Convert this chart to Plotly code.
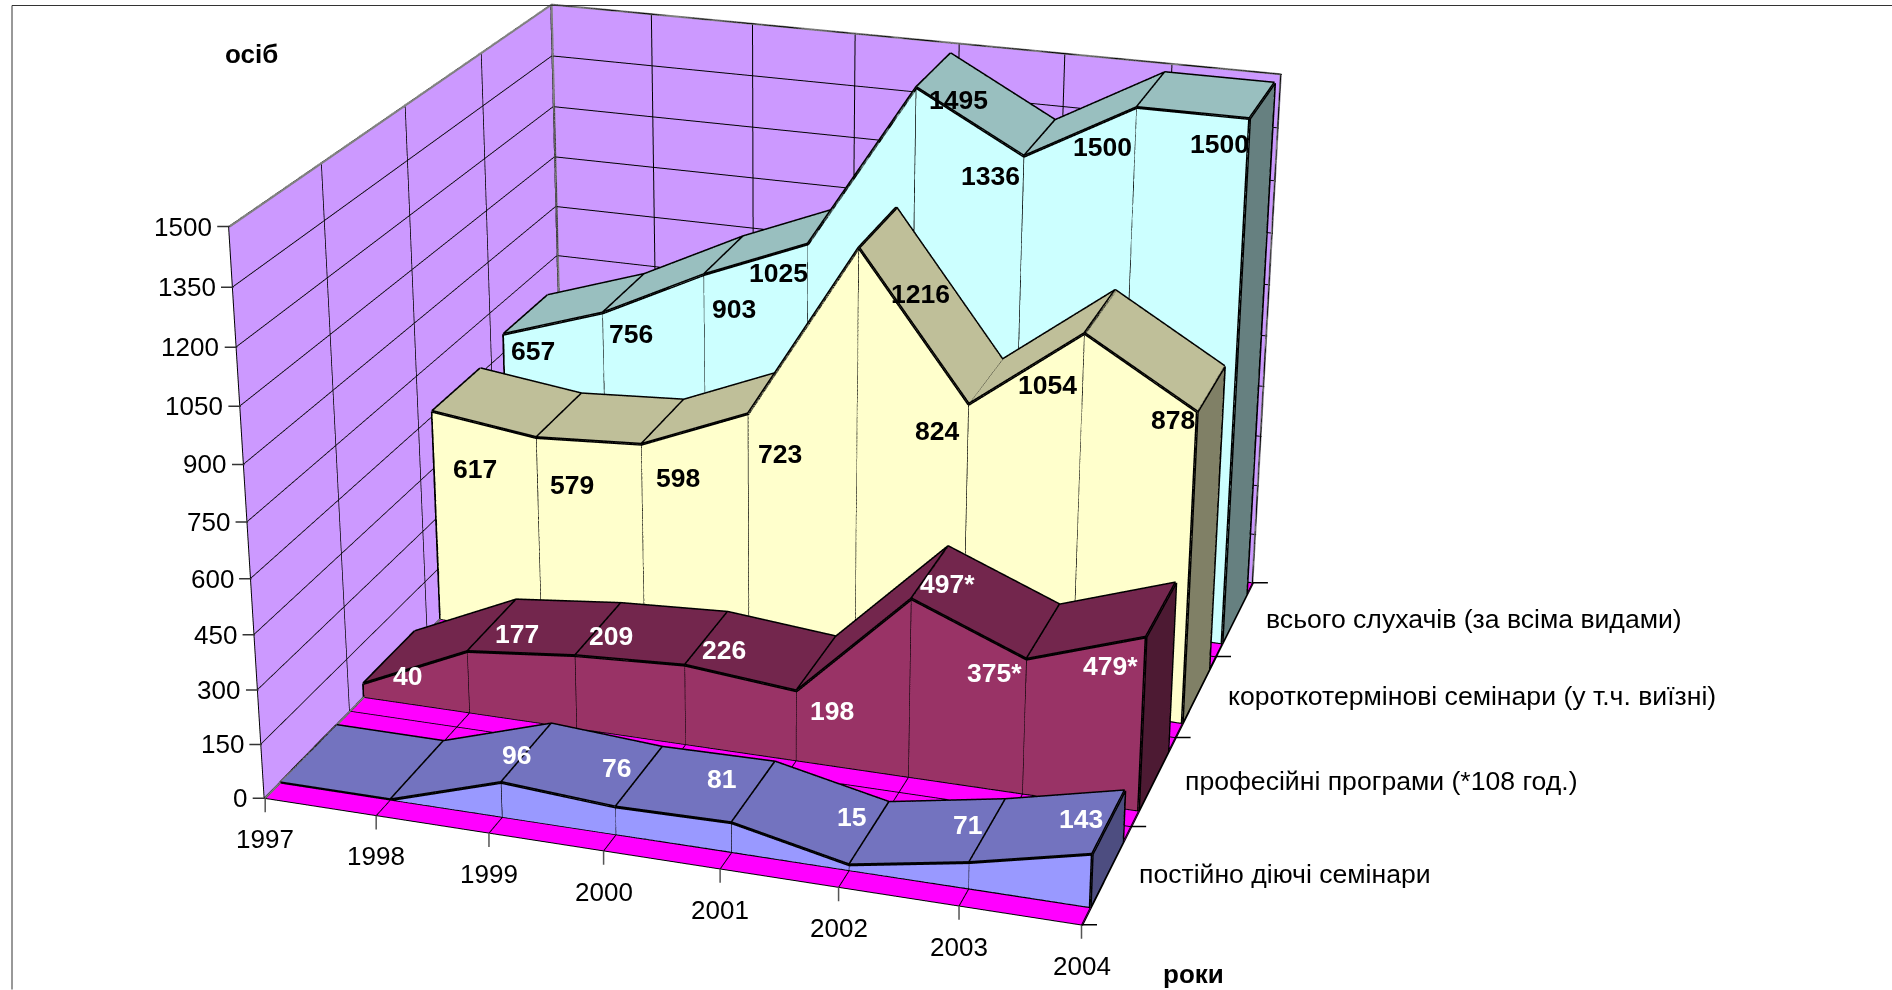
import plotly.graph_objects as go

# роки та ряди даних
years = [1997, 1998, 1999, 2000, 2001, 2002, 2003, 2004]
series_names = ["постійно діючі семінари", "професійні програми (*108 год.)",
                "короткотермінові семінари (у т.ч. виїзні)", "всього слухачів (за всіма видами)"]
permanent = [0, 0, 96, 76, 81, 15, 71, 143]
professional = [40, 177, 209, 226, 198, 497, 375, 479]
short_term = [617, 579, 598, 723, 1216, 824, 1054, 878]
total = [657, 756, 903, 1025, 1495, 1336, 1500, 1500]
permanent_labels = ["", "", "96", "76", "81", "15", "71", "143"]
professional_labels = ["40", "177", "209", "226", "198", "497*", "375*", "479*"]
short_term_labels = ["617", "579", "598", "723", "1216", "824", "1054", "878"]
total_labels = ["657", "756", "903", "1025", "1495", "1336", "1500", "1500"]
z_ticks = [0, 150, 300, 450, 600, 750, 900, 1050, 1200, 1350, 1500]

# зсуви підписів даних у пікселях відносно точки на передній грані
permanent_dx = [0, 0, 13, -1, -12, 0, -4, -13]
permanent_dy = [0, 0, 25, 36, 41, 45, 35, 32]
professional_dx = [42, 47, 34, 37, 34, 34, -34, -37]
professional_dy = [5, 15, 17, 13, -23, 12, -16, -32]
short_term_dx = [41, 33, 35, 30, 60, -33, -39, -26]
short_term_dy = [-60, -49, -36, -42, -48, -29, -54, -10]
total_dx = [27, 26, 28, -31, 41, -35, -36, -31]
total_dy = [-19, -23, -36, -31, -14, -21, -41, -27]

FONT = "Liberation Sans"
FIG_H = 3025  # сцена вища за вікно: так перспектива плоскіша, як в оригіналі
TOP_CUT = (FIG_H - 990) / 2

fig = go.Figure()

def paper_y(win_y):
    return 1 - (win_y + TOP_CUT) / FIG_H

def add_lines(xs, ys, zs, color="black", width=6):
    fig.add_trace(go.Scatter3d(x=xs, y=ys, z=zs, mode="lines", line=dict(color=color, width=width),
                               hoverinfo="skip", showlegend=False))

def add_quads(quads, color):
    vx, vy, vz, ii, jj, kk = [], [], [], [], [], []
    for q in quads:
        n = len(vx)
        for p in q:
            vx.append(p[0]); vy.append(p[1]); vz.append(p[2])
        ii += [n, n]; jj += [n + 1, n + 2]; kk += [n + 2, n + 3]
    fig.add_trace(go.Mesh3d(x=vx, y=vy, z=vz, i=ii, j=jj, k=kk, color=color, flatshading=True,
                            lighting=dict(ambient=1, diffuse=0, specular=0, roughness=1, fresnel=0),
                            hoverinfo="skip", showlegend=False))

# кожен ряд - стрічка з передньою, верхньою та боковою гранями
def add_ribbon(values, band, front_color, top_color, end_color):
    yf, yb = band + 0.17, band + 0.83
    steps = range(len(years) - 1)
    front = [[(years[k], yf, 0), (years[k + 1], yf, 0), (years[k + 1], yf, values[k + 1]), (years[k], yf, values[k])]
             for k in steps]
    top = [[(years[k], yf, values[k]), (years[k + 1], yf, values[k + 1]), (years[k + 1], yb, values[k + 1]), (years[k], yb, values[k])]
           for k in steps]
    back = [[(years[k], yb, 0), (years[k + 1], yb, 0), (years[k + 1], yb, values[k + 1]), (years[k], yb, values[k])]
            for k in steps]
    end = [[(years[-1], yf, 0), (years[-1], yb, 0), (years[-1], yb, values[-1]), (years[-1], yf, values[-1])]]
    add_quads(front + back, front_color)
    add_quads(top, top_color)
    add_quads(end, end_color)
    # тонкі вертикальні лінії на передній грані
    xs, ys, zs = [], [], []
    for k in range(1, len(years) - 1):
        xs += [years[k], years[k], None]; ys += [yf, yf, None]; zs += [0, values[k], None]
    add_lines(xs, ys, zs, width=2)
    # товсті контури
    xs, ys, zs = list(years) + [None], [yf] * 8 + [None], list(values) + [None]
    xs += list(years) + [None]; ys += [yb] * 8 + [None]; zs += list(values) + [None]
    for k in range(len(years)):
        xs += [years[k], years[k], None]; ys += [yf, yb, None]; zs += [values[k], values[k], None]
    xs += [years[0], years[-1], None]; ys += [yf, yf, None]; zs += [0, 0, None]
    xs += [years[0], years[0], None]; ys += [yf, yf, None]; zs += [0, values[0], None]
    xs += [years[-1], years[-1], None]; ys += [yf, yf, None]; zs += [0, values[-1], None]
    xs += [years[-1], years[-1], years[-1]]; ys += [yf, yb, yb]; zs += [0, 0, values[-1]]
    add_lines(xs, ys, zs)

add_ribbon(total, 3, "#CCFFFF", "#99BFBF", "#668080")
add_ribbon(short_term, 2, "#FFFFCC", "#BFBF99", "#808066")
add_ribbon(professional, 1, "#993366", "#73264D", "#4D1A33")
add_ribbon(permanent, 0, "#9999FF", "#7373BF", "#4D4D80")

# сірі ребра стін
add_lines([1997, 1997, 2004, 2004, None, 1997, 1997, None, 1997, 1997],
          [0, 4, 4, 4, None, 4, 4, None, 0, 4],
          [1500, 1500, 1500, 0, None, 1500, 0, None, 0, 0], color="#808080", width=4)

annotations = []
tick_font = dict(family=FONT, size=26, color="black")
name_font = dict(family=FONT, size=26.6, color="black")

# насічки: осі 3D малюють їх навскіс, а в оригіналі вони вертикальні та горизонтальні
def tick_mark(x, y, z, ax, ay, color):
    return dict(x=x, y=y, z=z, text=" ", showarrow=True, arrowhead=0, arrowwidth=1.5, arrowcolor=color,
                ax=ax, ay=ay, font=dict(size=1))

for z in z_ticks:
    annotations.append(tick_mark(1997, 0, z, -14, 0, "#333333"))
    annotations.append(dict(x=1997, y=0, z=z, text=str(z), showarrow=False, xanchor="right", xshift=-16, font=tick_font))
for y in years:
    annotations.append(tick_mark(y, 0, 0, 0, 16, "#555555"))
    annotations.append(dict(x=y, y=0, z=0, text=str(y), showarrow=False, yshift=-41, font=tick_font))
for band in range(5):
    annotations.append(tick_mark(2004, band, 0, 17, 0, "black"))
for i, name in enumerate(series_names):
    annotations.append(dict(x=2004, y=i + 0.5, z=0, text=name, showarrow=False, xanchor="left", xshift=30, font=name_font))

rows = [(permanent, permanent_labels, permanent_dx, permanent_dy, "white"),
        (professional, professional_labels, professional_dx, professional_dy, "white"),
        (short_term, short_term_labels, short_term_dx, short_term_dy, "black"),
        (total, total_labels, total_dx, total_dy, "black")]
for i, (vals, labs, dxs, dys, col) in enumerate(rows):
    for k, lab in enumerate(labs):
        if lab:
            annotations.append(dict(x=years[k], y=i + 0.2, z=vals[k], text=lab, showarrow=False,
                                    xshift=dxs[k], yshift=dys[k],
                                    font=dict(family=FONT, size=26.5, color=col, weight="bold")))

def axis(**kw):
    return dict(showspikes=False, zeroline=False, title="", showticklabels=False, showbackground=True,
                gridcolor="black", gridwidth=2, showline=True, linecolor="black", linewidth=2,
                ticks="", **kw)

fig.update_layout(
    width=1892, height=FIG_H, margin=dict(l=0, r=0, t=0, b=0), paper_bgcolor="white", showlegend=False,
    scene=dict(
        domain=dict(x=[0, 1], y=[0, 1]),
        aspectmode="manual", aspectratio=dict(x=1, y=0.9733, z=0.7154),
        camera=dict(eye=dict(x=1.287, y=-3.9794, z=1.6841),
                    center=dict(x=0.1903, y=0.0295, z=-0.0832),
                    up=dict(x=-0.122, y=0.3722, z=0.9201)),
        xaxis=axis(range=[1996.99, 2004.01], tickvals=years, backgroundcolor="#CC99FF"),
        yaxis=axis(range=[0, 4], tickvals=[0, 1, 2, 3, 4], backgroundcolor="#CC99FF"),
        zaxis=axis(range=[-0.5, 1500.5], tickvals=z_ticks, backgroundcolor="#FF00FF"),
        annotations=annotations,
    ),
    annotations=[
        dict(xref="paper", yref="paper", x=251 / 1892, y=paper_y(54), xanchor="center", text="<b>осіб</b>", showarrow=False,
             font=dict(family=FONT, size=26, color="black")),
        dict(xref="paper", yref="paper", x=1193 / 1892, y=paper_y(974), xanchor="center", text="<b>роки</b>", showarrow=False,
             font=dict(family=FONT, size=26, color="black")),
    ],
    shapes=[dict(type="line", xref="paper", yref="paper", x0=12 / 1892, x1=1, y0=paper_y(6), y1=paper_y(6), line=dict(color="#333333", width=1)),
            dict(type="line", xref="paper", yref="paper", x0=12 / 1892, x1=12 / 1892, y0=paper_y(6), y1=paper_y(990), line=dict(color="#333333", width=1))],
)

shift = "document.body.style.margin='0';document.documentElement.style.overflow='hidden';" \
        "document.querySelector('.plotly-graph-div').style.marginTop='-%dpx';" % round(TOP_CUT)
fig.write_html("out.html", post_script=shift)
